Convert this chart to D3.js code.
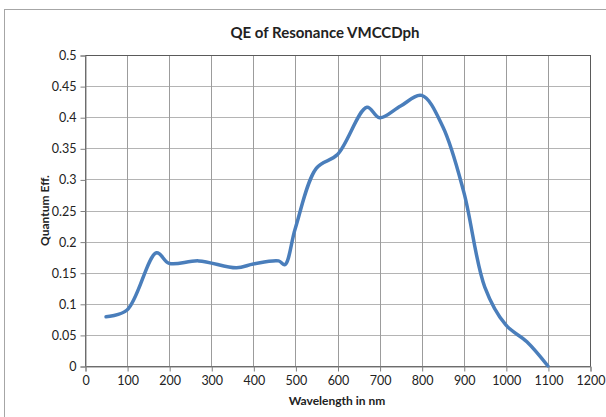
<!DOCTYPE html>
<html>
<head>
<meta charset="utf-8">
<script src="https://cdn.jsdelivr.net/npm/d3@7"></script>
<style>
  body { margin: 0; background: #fff; }
  svg text { font-family: Lato, "Open Sans", sans-serif; fill: #222; }
</style>
</head>
<body>
<div id="chart"></div>
<script>
const wavelengths = [50, 100, 170, 200, 270, 360, 400, 460, 475, 500, 550, 600, 670, 700, 750, 800, 850, 900, 950, 1000, 1050, 1100];
const quantumEff = [0.079, 0.09, 0.182, 0.165, 0.169, 0.158, 0.164, 0.169, 0.163, 0.222, 0.318, 0.34, 0.416, 0.399, 0.418, 0.435, 0.385, 0.28, 0.127, 0.066, 0.039, 0];
const xTicks = [0, 100, 200, 300, 400, 500, 600, 700, 800, 900, 1000, 1100, 1200];
const yTicks = [0, 0.05, 0.1, 0.15, 0.2, 0.25, 0.3, 0.35, 0.4, 0.45, 0.5];

const width = 606, height = 417;
const plot = { left: 85, top: 55, right: 590, bottom: 366 };

const svg = d3.select("#chart").append("svg")
  .attr("width", width)
  .attr("height", height);

// outer chart border (runs off the right / bottom)
svg.append("rect")
  .attr("x", 4.5).attr("y", 9.5)
  .attr("width", 700).attr("height", 500)
  .attr("fill", "none")
  .attr("stroke", "#a6a6a6");

const x = d3.scaleLinear().domain([0, 1200]).range([plot.left, plot.right]);
const y = d3.scaleLinear().domain([0, 0.5]).range([plot.bottom, plot.top]);

// grid
svg.append("g")
  .selectAll("line")
  .data(yTicks)
  .enter()
  .append("line")
  .attr("x1", plot.left).attr("x2", plot.right)
  .attr("y1", (d) => Math.round(y(d)) + 0.5)
  .attr("y2", (d) => Math.round(y(d)) + 0.5)
  .attr("stroke", "#b4b4b4");

svg.append("g")
  .selectAll("line")
  .data(xTicks)
  .enter()
  .append("line")
  .attr("x1", (d) => Math.round(x(d)) + 0.5)
  .attr("x2", (d) => Math.round(x(d)) + 0.5)
  .attr("y1", plot.top).attr("y2", plot.bottom)
  .attr("stroke", "#9c9c9c");

// plot border
svg.append("rect")
  .attr("x", plot.left + 0.5).attr("y", plot.top + 0.5)
  .attr("width", plot.right - plot.left).attr("height", plot.bottom - plot.top)
  .attr("fill", "none")
  .attr("stroke", "#5a5a5a");

// axes
const xAxis = d3.axisBottom(x).tickValues(xTicks).tickSize(5).tickPadding(5)
  .tickFormat(d3.format("d"));
const yAxis = d3.axisLeft(y).tickValues(yTicks).tickSize(5).tickPadding(4)
  .tickFormat((d) => String(+d.toFixed(2)));

const gx = svg.append("g")
  .attr("transform", `translate(0.5, ${plot.bottom + 0.5})`)
  .call(xAxis);
const gy = svg.append("g")
  .attr("transform", `translate(${plot.left + 0.5}, 0.5)`)
  .call(yAxis);

[gx, gy].forEach((g) => {
  g.select(".domain").attr("stroke", "#808080");
  g.selectAll(".tick line").attr("stroke", "#808080");
  g.selectAll("text")
    .attr("font-size", 12.5)
    .style("font-family", "Lato, 'Open Sans', sans-serif")
    .attr("fill", "#222");
});

// series
const line = d3.line()
  .x((d, i) => x(wavelengths[i]))
  .y((d) => y(d))
  .curve(d3.curveCatmullRom.alpha(0.5));

svg.append("path")
  .datum(quantumEff)
  .attr("d", line)
  .attr("fill", "none")
  .attr("stroke", "#4a7ebb")
  .attr("stroke-width", 3.5)
  .attr("stroke-linecap", "round")
  .attr("stroke-linejoin", "round");

// titles
svg.append("text")
  .text("QE of Resonance VMCCDph")
  .attr("x", 325).attr("y", 38)
  .attr("text-anchor", "middle")
  .attr("font-size", 15)
  .attr("font-weight", "bold");

svg.append("text")
  .text("Wavelength in nm")
  .attr("x", 337).attr("y", 405)
  .attr("text-anchor", "middle")
  .attr("font-size", 12)
  .attr("font-weight", "bold");

svg.append("text")
  .text("Quantum Eff.")
  .attr("transform", `translate(49, ${(plot.top + plot.bottom) / 2}) rotate(-90)`)
  .attr("text-anchor", "middle")
  .attr("font-size", 12)
  .attr("font-weight", "bold");
</script>
</body>
</html>
